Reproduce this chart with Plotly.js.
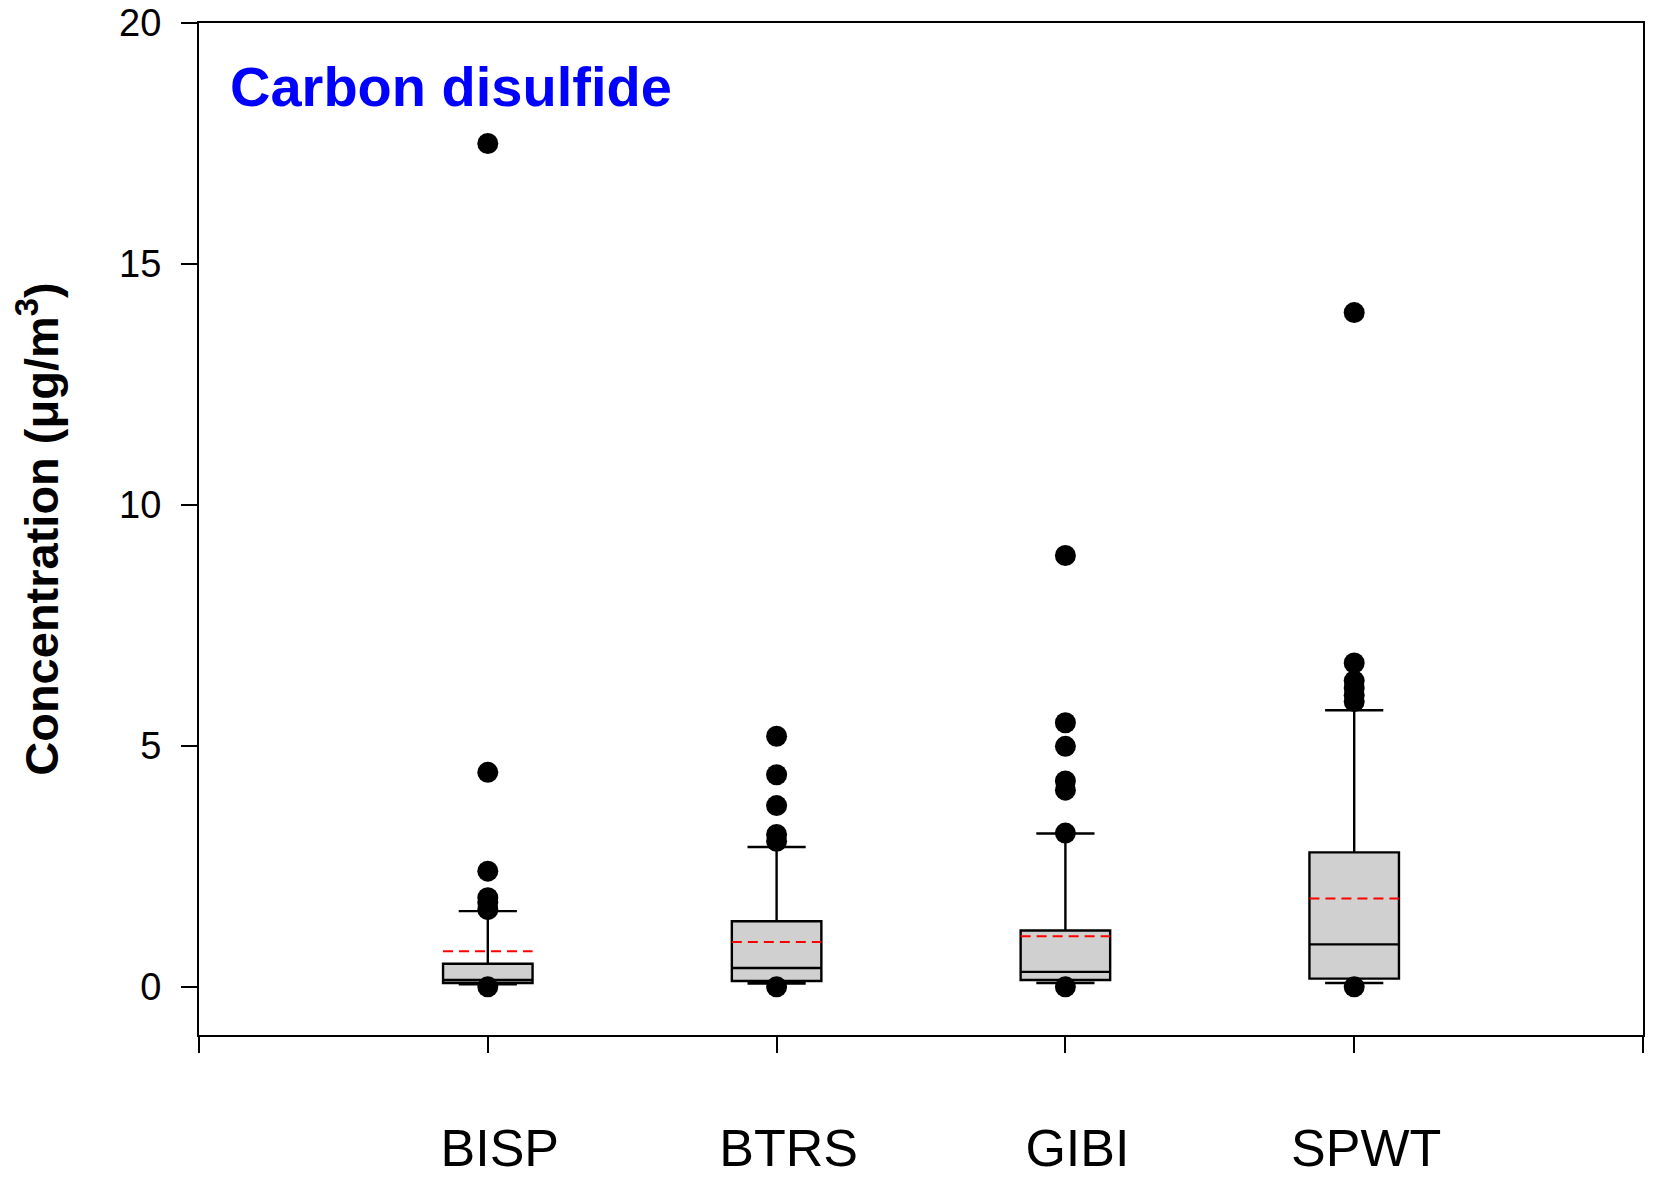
<!DOCTYPE html>
<html>
<head>
<meta charset="utf-8">
<script src="https://cdn.plot.ly/plotly-3.0.1.min.js"></script>
<style>html,body{margin:0;padding:0;background:#fff;}#chart{width:1654px;height:1179px;}</style>
</head>
<body>
<div id="chart"></div>
<script>
// ---- data ----
const categories = ['BISP', 'BTRS', 'GIBI', 'SPWT'];
const positions = [1, 2, 3, 4];
const lowerWhisker = [0.05, 0.07, 0.08, 0.08];
const q1 = [0.08, 0.12, 0.14, 0.17];
const median = [0.14, 0.39, 0.31, 0.88];
const q3 = [0.48, 1.36, 1.17, 2.79];
const upperWhisker = [1.57, 2.90, 3.18, 5.74];
const means = [0.74, 0.93, 1.05, 1.83];
const outliersBISP = [17.5, 4.45, 2.40, 1.85, 1.75, 1.60, 0.0];
const outliersBTRS = [5.20, 4.40, 3.76, 3.16, 3.02, 0.0];
const outliersGIBI = [8.95, 5.48, 4.99, 4.27, 4.08, 3.19, 0.0];
const outliersSPWT = [13.99, 6.72, 6.35, 6.20, 6.05, 5.92, 0.0];
const yTicks = [0, 5, 10, 15, 20];
const chartLabel = 'Carbon disulfide';
const yTitle = 'Concentration (μg/m<sup>3</sup>)';

// ---- build traces ----
const FONT = 'Liberation Sans, Arial, Helvetica, sans-serif';
const boxWidth = 0.31;
const outlierSets = [outliersBISP, outliersBTRS, outliersGIBI, outliersSPWT];

const boxTrace = {
  type: 'box',
  x: positions,
  q1: q1, median: median, q3: q3,
  lowerfence: lowerWhisker, upperfence: upperWhisker,
  width: boxWidth,
  whiskerwidth: 0.65,
  boxpoints: false,
  fillcolor: '#d0d0d0',
  line: {color: '#000000', width: 2.4},
  hoverinfo: 'skip',
  showlegend: false
};

const meanX = [], meanY = [];
positions.forEach((p, i) => {
  meanX.push(p - boxWidth / 2, p + boxWidth / 2, null);
  meanY.push(means[i], means[i], null);
});
const meanTrace = {
  type: 'scatter', mode: 'lines',
  x: meanX, y: meanY,
  line: {color: '#ff0000', width: 2, dash: '10px,6px'},
  hoverinfo: 'skip', showlegend: false
};

const outX = [], outY = [];
outlierSets.forEach((arr, i) => arr.forEach(v => { outX.push(positions[i]); outY.push(v); }));
const outlierTrace = {
  type: 'scatter', mode: 'markers',
  x: outX, y: outY,
  marker: {color: '#000000', size: 21, line: {width: 0}},
  hoverinfo: 'skip', showlegend: false
};

const layout = {
  width: 1654, height: 1179,
  margin: {l: 199, r: 11, t: 23, b: 144},
  paper_bgcolor: '#ffffff', plot_bgcolor: '#ffffff',
  font: {family: FONT, color: '#000000'},
  showlegend: false,
  xaxis: {
    range: [0, 5],
    tickmode: 'array',
    tickvals: positions,
    ticktext: categories,
    ticks: 'outside', ticklen: 16, tickwidth: 2, tickcolor: '#000',
    minor: {tickmode: 'array', tickvals: [0, 5], ticks: 'outside', ticklen: 16, tickwidth: 2, tickcolor: '#000', showgrid: false},
    showline: true, linecolor: '#000', linewidth: 2, mirror: true,
    showgrid: false, zeroline: false,
    tickfont: {family: FONT, size: 52, color: '#000'},
    ticklabelstandoff: 51,
    ticklabelshift: 12
  },
  yaxis: {
    range: [-1, 20],
    tickmode: 'array', tickvals: yTicks,
    ticks: 'outside', ticklen: 16, tickwidth: 2, tickcolor: '#000',
    showline: true, linecolor: '#000', linewidth: 2, mirror: true,
    showgrid: false, zeroline: false,
    tickfont: {family: FONT, size: 38, color: '#000'},
    ticklabelstandoff: 12,
    title: {text: yTitle, font: {family: FONT, size: 47, color: '#000', weight: 'bold'}, standoff: 46}
  },
  annotations: [{
    xref: 'paper', yref: 'paper', x: 0.02, y: 0.97,
    xanchor: 'left', yanchor: 'top',
    text: '<b>' + chartLabel + '</b>', showarrow: false,
    font: {family: FONT, size: 56, color: '#0000ff'}
  }]
};

Plotly.newPlot('chart', [boxTrace, meanTrace, outlierTrace], layout, {staticPlot: true});
</script>
</body>
</html>
